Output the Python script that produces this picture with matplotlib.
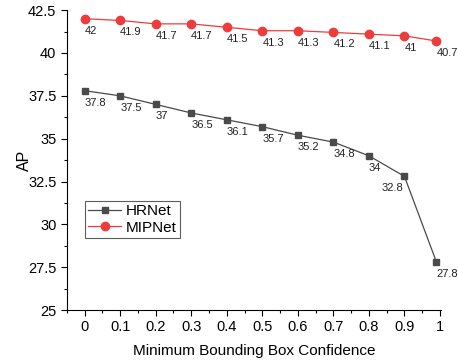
import matplotlib
matplotlib.use("Agg")
import matplotlib.pyplot as plt
from matplotlib.ticker import MultipleLocator

plt.rcParams['font.family'] = ['Liberation Sans', 'DejaVu Sans']

x = [0, 0.1, 0.2, 0.3, 0.4, 0.5, 0.6, 0.7, 0.8, 0.9, 0.99]
xticks = [0, 0.1, 0.2, 0.3, 0.4, 0.5, 0.6, 0.7, 0.8, 0.9, 1]
xticklabels = ['0', '0.1', '0.2', '0.3', '0.4', '0.5', '0.6', '0.7', '0.8', '0.9', '1']
hrnet = [37.8, 37.5, 37, 36.5, 36.1, 35.7, 35.2, 34.8, 34, 32.8, 27.8]
mipnet = [42, 41.9, 41.7, 41.7, 41.5, 41.3, 41.3, 41.2, 41.1, 41, 40.7]
hr_labels = ['37.8', '37.5', '37', '36.5', '36.1', '35.7', '35.2', '34.8', '34', '32.8', '27.8']
mip_labels = ['42', '41.9', '41.7', '41.7', '41.5', '41.3', '41.3', '41.2', '41.1', '41', '40.7']

fig = plt.figure(figsize=(4.58, 3.63), dpi=100)
ax = fig.add_axes([0.146, 0.146, 0.817, 0.826])

c_hr = '#4a4a4a'
c_mip = '#ee3b3b'
ax.plot(x, hrnet, color=c_hr, lw=0.9, marker='s', ms=5, label='HRNet')
ax.plot(x, mipnet, color=c_mip, lw=0.9, marker='o', ms=6, label='MIPNet')

for i, (xi, yi, t) in enumerate(zip(x, hrnet, hr_labels)):
    if i == 9:
        ax.annotate(t, (xi, yi), xytext=(-1, -5), textcoords='offset points',
                    ha='right', va='top', fontsize=8, color='#222222')
    else:
        ax.annotate(t, (xi, yi), xytext=(0, -5), textcoords='offset points',
                    ha='left', va='top', fontsize=8, color='#222222')
for xi, yi, t in zip(x, mipnet, mip_labels):
    ax.annotate(t, (xi, yi), xytext=(0, -5), textcoords='offset points',
                ha='left', va='top', fontsize=8, color='#222222')

ax.set_xlim(-0.05, 1.003)
ax.set_ylim(25, 42.5)
ax.set_xticks(xticks)
ax.set_xticklabels(xticklabels)
ax.xaxis.set_minor_locator(MultipleLocator(0.05))
ax.yaxis.set_minor_locator(MultipleLocator(1.25))
ax.set_yticks([25, 27.5, 30, 32.5, 35, 37.5, 40, 42.5])
ax.set_yticklabels(['25', '27.5', '30', '32.5', '35', '37.5', '40', '42.5'])
ax.tick_params(which='major', direction='out', length=4, width=0.8, labelsize=10.5)
ax.tick_params(which='minor', direction='out', length=2.5, width=0.8)
for s in ['top', 'right']:
    ax.spines[s].set_visible(False)
ax.set_xlabel('Minimum Bounding Box Confidence', fontsize=11, labelpad=7)
ax.set_ylabel('AP', fontsize=11.5, labelpad=-3)

leg = ax.legend(loc='upper left', bbox_to_anchor=(0.048, 0.363), fontsize=11,
                frameon=True, fancybox=False, edgecolor='#333333',
                handlelength=2.2, borderpad=0.2, labelspacing=0.15, handletextpad=0.3,
                borderaxespad=0)
leg.get_frame().set_linewidth(0.8)

fig.savefig('out.png', dpi=100)
